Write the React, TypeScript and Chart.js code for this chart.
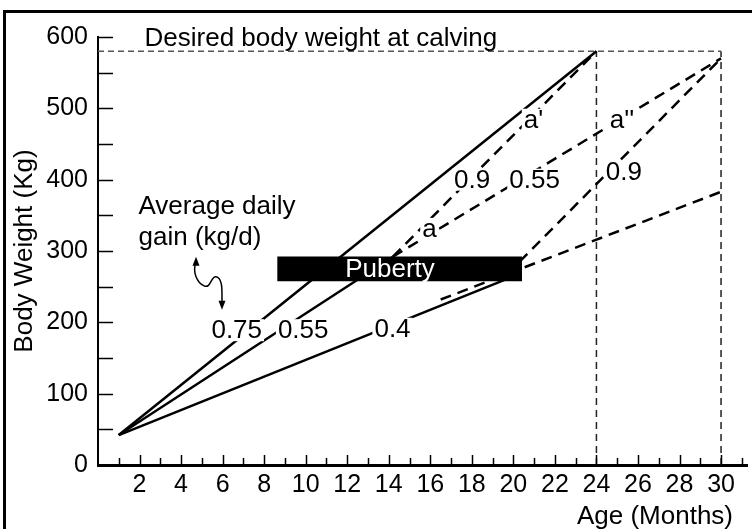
import React, { useEffect, useRef } from 'react';
import { Chart, registerables } from 'chart.js';

Chart.register(...registerables);

// ---------- data ----------
const xTickLabels = [2, 4, 6, 8, 10, 12, 14, 16, 18, 20, 22, 24, 26, 28, 30];
const yTickLabels = [0, 100, 200, 300, 400, 500, 600];
const desiredWeight = 580;

const solid075 = [{ x: 1, y: 42 }, { x: 24, y: 580 }];
const solid055 = [{ x: 1, y: 42 }, { x: 14.2, y: 292 }];
const solid04 = [{ x: 1, y: 42 }, { x: 20.3, y: 268 }];
const dash09a = [{ x: 14.2, y: 292 }, { x: 24, y: 580 }];
const dash055a = [{ x: 14.2, y: 292 }, { x: 30, y: 570 }];
const dash09b = [{ x: 20.3, y: 285 }, { x: 30, y: 570 }];
const dash04 = [{ x: 16.5, y: 232 }, { x: 30, y: 383 }];
const targetLine = [{ x: 0, y: desiredWeight }, { x: 30, y: desiredWeight }];
const calving24 = [{ x: 24, y: 0 }, { x: 24, y: desiredWeight }];
const calving30 = [{ x: 30, y: 0 }, { x: 30, y: desiredWeight }];
const pubertyBar = [{ y: 275, x: [8.65, 20.4] }];
const pubertyLabelX = 14.06;

const gainLabels = ['0.75', '0.55', '0.4', 'a', '0.9', '0.55', "a'", "a''", '0.9'];
const gainLabelX = [6.68, 9.88, 14.18, 15.96, 18.01, 21.02, 20.97, 25.23, 25.32];
const gainLabelY = [189, 189, 191, 331, 400, 400, 484, 484, 411];

const FONT = 'Liberation Sans, Arial, sans-serif';
const FS = 26;

// wavy arrow path (data units)
const wave = [
  [4.72, 284.8],
  [4.53, 270.8], [4.77, 255.3], [5.11, 251.1],
  [5.44, 246.9], [5.44, 265.2], [5.68, 263.8],
  [5.97, 262.3], [5.97, 248.3], [5.97, 238.5],
];

function lineDs(data: any[], dash: number[] | null, width: number, color: string) {
  return {
    type: 'line',
    data,
    borderColor: color,
    borderWidth: width,
    borderDash: dash || [],
    pointRadius: 0,
    fill: false,
    tension: 0,
    order: 2,
  };
}

const annotate = {
  id: 'annotate',
  afterDatasetsDraw(chart: any) {
    const ctx = chart.ctx;
    const xs = chart.scales.x;
    const ys = chart.scales.y;
    const px = (v: number) => xs.getPixelForValue(v);
    const py = (v: number) => ys.getPixelForValue(v);
    ctx.save();

    // frame
    ctx.fillStyle = '#000';
    ctx.fillRect(3, 10, 3, chart.height - 10);
    ctx.fillRect(3, 10, chart.width - 3, 3);

    // inward ticks
    ctx.strokeStyle = '#000';
    ctx.lineWidth = 1.5;
    const left = chart.chartArea.left;
    const bottom = chart.chartArea.bottom;
    for (let v = 50; v <= 600; v += 50) {
      const y = Math.round(py(v)) + 0.5;
      ctx.beginPath();
      ctx.moveTo(left, y);
      ctx.lineTo(left + 15, y);
      ctx.stroke();
    }
    for (let m = 1; m <= 31; m++) {
      const x = Math.round(px(m)) + 0.5;
      const len = m % 2 === 0 ? 10 : 7;
      ctx.beginPath();
      ctx.moveTo(x, bottom);
      ctx.lineTo(x, bottom - len);
      ctx.stroke();
    }

    ctx.font = `${FS}px ${FONT}`;
    ctx.textAlign = 'center';
    ctx.textBaseline = 'middle';
    // labels with white background
    for (let i = 0; i < gainLabels.length; i++) {
      const t = gainLabels[i];
      const x = px(gainLabelX[i]);
      const y = py(gainLabelY[i]);
      const w = ctx.measureText(t).width;
      ctx.fillStyle = '#fff';
      ctx.fillRect(x - w / 2 - 2, y - 11, w + 4, 22);
      ctx.fillStyle = '#000';
      ctx.fillText(t, x, y + 1);
    }

    // Puberty text
    const pb = pubertyBar[0];
    ctx.fillStyle = '#fff';
    ctx.fillText('Puberty', px(pubertyLabelX), py(pb.y) + 1);

    // desired weight text
    ctx.fillStyle = '#000';
    ctx.textAlign = 'left';
    ctx.textBaseline = 'alphabetic';
    ctx.fillText('Desired body weight at calving', px(2.24), py(desiredWeight) - 5);

    // average daily gain
    ctx.textBaseline = 'middle';
    ctx.fillText('Average daily', px(1.95), py(362));
    ctx.fillText('gain (kg/d)', px(1.95), py(318));

    // wavy arrow
    ctx.lineWidth = 1.5;
    ctx.beginPath();
    ctx.moveTo(px(wave[0][0]), py(wave[0][1]));
    for (let i = 1; i + 2 < wave.length; i += 3) {
      ctx.bezierCurveTo(
        px(wave[i][0]), py(wave[i][1]),
        px(wave[i + 1][0]), py(wave[i + 1][1]),
        px(wave[i + 2][0]), py(wave[i + 2][1])
      );
    }
    const endX = px(5.97);
    const endY = py(221.7);
    ctx.lineTo(endX, endY);
    ctx.stroke();
    // arrowheads
    const tipTopX = px(4.72), tipTopY = py(292);
    ctx.beginPath();
    ctx.moveTo(tipTopX, tipTopY);
    ctx.lineTo(tipTopX - 3.5, tipTopY + 9);
    ctx.lineTo(tipTopX + 3.5, tipTopY + 9);
    ctx.closePath();
    ctx.fill();
    ctx.beginPath();
    ctx.moveTo(endX, endY + 3);
    ctx.lineTo(endX - 3.5, endY - 6);
    ctx.lineTo(endX + 3.5, endY - 6);
    ctx.closePath();
    ctx.fill();

    // axis titles
    ctx.textAlign = 'right';
    ctx.textBaseline = 'middle';
    ctx.fillText('Age (Months)', chart.width - 19, 517);
    ctx.save();
    ctx.translate(25, (chart.chartArea.top + chart.chartArea.bottom) / 2);
    ctx.rotate(-Math.PI / 2);
    ctx.textAlign = 'center';
    ctx.fillText('Body Weight (Kg)', 0, 0);
    ctx.restore();

    ctx.restore();
  },
};

export default function App() {
  const ref = useRef<HTMLCanvasElement>(null);
  useEffect(() => {
    if (!ref.current) return;
    const chart = new Chart(ref.current, {
      type: 'line',
      data: {
        datasets: [
          {
            type: 'bar',
            data: pubertyBar,
            indexAxis: 'y',
            backgroundColor: '#000',
            borderWidth: 0,
            barThickness: 24,
            grouped: false,
            order: 0,
          } as any,
          lineDs(solid075, null, 2.5, '#000'),
          lineDs(solid055, null, 2.5, '#000'),
          lineDs(solid04, null, 2.5, '#000'),
          lineDs(dash09a, [11, 7], 2.5, '#000'),
          lineDs(dash055a, [11, 7], 2.5, '#000'),
          lineDs(dash09b, [11, 7], 2.5, '#000'),
          lineDs(dash04, [11, 7], 2.5, '#000'),
          lineDs(targetLine, [6, 4], 1.5, '#555'),
          lineDs(calving24, [7, 5], 1.5, '#222'),
          lineDs(calving30, [7, 5], 1.5, '#222'),
        ] as any,
      },
      options: {
        animation: false,
        responsive: false,
        devicePixelRatio: 1,
        layout: { padding: { top: 37, left: 0, right: 0, bottom: 0 } },
        plugins: { legend: { display: false }, tooltip: { enabled: false } },
        scales: {
          x: {
            type: 'linear',
            min: 0,
            max: 31.25,
            offset: false,
            afterFit: (s: any) => { s.height = 64; },
            grid: { display: false, drawTicks: false, offset: false },
            border: { display: true, width: 3, color: '#000' },
            ticks: {
              stepSize: 1,
              autoSkip: false,
              maxRotation: 0,
              padding: 5,
              color: '#000',
              font: { family: FONT, size: 25 },
              callback: (v: any) => (xTickLabels.includes(Number(v)) ? String(v) : ''),
            },
          },
          y: {
            type: 'linear',
            min: 0,
            max: 600,
            offset: false,
            afterFit: (s: any) => { s.width = 98; },
            grid: { display: false, drawTicks: false, offset: false },
            border: { display: true, width: 2, color: '#000' },
            ticks: {
              stepSize: 100,
              padding: 10,
              color: '#000',
              font: { family: FONT, size: 25 },
              callback: (v: any) => (yTickLabels.includes(Number(v)) ? String(v) : ''),
            },
          },
        },
      } as any,
      plugins: [annotate],
    });
    return () => chart.destroy();
  }, []);
  return (
    <div style={{ position: 'absolute', left: 0, top: 0, width: 752, height: 529, background: '#fff' }}>
      <canvas ref={ref} width={752} height={529} />
    </div>
  );
}
